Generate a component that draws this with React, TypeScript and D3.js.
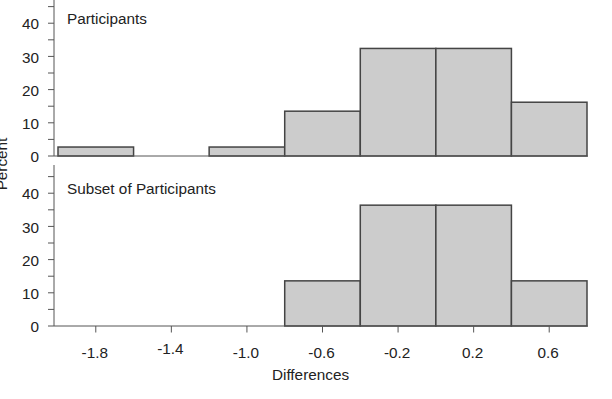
import React from "react";
import * as d3 from "d3";

// histogram bins of width 0.4, percent of people per bin
const binStarts = [-2.0, -1.6, -1.2, -0.8, -0.4, 0.0, 0.4];
const binWidth = 0.4;
const participants = [2.7, 0, 2.7, 13.5, 32.4, 32.4, 16.2];
const subset = [0, 0, 0, 13.6, 36.4, 36.4, 13.6];
const xTicks = [-1.8, -1.4, -1.0, -0.6, -0.2, 0.2, 0.6];
const yTicks = [0, 10, 20, 30, 40];
const yMinor = [5, 15, 25, 35, 45];

const FONT = "'Liberation Sans', Arial, sans-serif";
const FS = 15.3;
const AXIS = "#555";

type PanelProps = {
  title: string;
  values: number[];
  x: d3.ScaleLinear<number, number>;
  y: d3.ScaleLinear<number, number>;
  showX?: boolean;
};

function Panel({ title, values, x, y, showX = false }: PanelProps) {
  const axisX = 54;
  const [y0, yTop] = y.range();
  return (
    <g>
      {values.map((v, i) =>
        v > 0 ? (
          <rect
            key={i}
            x={x(binStarts[i])}
            y={y(v)}
            width={x(binStarts[i] + binWidth) - x(binStarts[i])}
            height={y(0) - y(v)}
            fill="#cccccc"
            stroke="#444"
            strokeWidth={1.5}
          />
        ) : null
      )}
      <line x1={axisX} x2={588} y1={y0} y2={y0} stroke={AXIS} />
      <line x1={axisX} x2={axisX} y1={y0} y2={yTop} stroke={AXIS} />
      {[...yTicks, ...yMinor].map((t) => (
        <line key={t} x1={axisX - 6} x2={axisX} y1={y(t)} y2={y(t)} stroke={AXIS} />
      ))}
      {yTicks.map((t) => (
        <text
          key={t}
          x={39}
          y={y(t)}
          dy="0.4em"
          textAnchor="end"
          fontSize={FS}
          fontFamily={FONT}
          fill="#222"
        >
          {t}
        </text>
      ))}
      <text x={67} y={yTop + 28.5} fontSize={FS} fontFamily={FONT} fill="#222">
        {title}
      </text>
      {showX &&
        xTicks.map((t) => (
          <g key={t} transform={`translate(${x(t)},${y0})`}>
            <line y1={0} y2={6.5} stroke={AXIS} />
            <text
              x={-1}
              y={t === -1.4 ? 28.3 : 32.3}
              textAnchor="middle"
              fontSize={FS}
              fontFamily={FONT}
              fill="#222"
            >
              {t.toFixed(1)}
            </text>
          </g>
        ))}
    </g>
  );
}

export default function App() {
  const width = 612;
  const height = 399;

  const x = d3
    .scaleLinear()
    .domain([-2.0, 0.8])
    .range([58, 587]);

  const yTopPanel = d3.scaleLinear().domain([0, 48.5]).range([156, -5]);
  const yBottomPanel = d3.scaleLinear().domain([0, 48.5]).range([326, 165]);

  return (
    <svg
      width={width}
      height={height}
      style={{ position: "absolute", left: 0, top: 0, background: "#fff" }}
    >
      <Panel title="Participants" values={participants} x={x} y={yTopPanel} />
      <Panel
        title="Subset of Participants"
        values={subset}
        x={x}
        y={yBottomPanel}
        showX
      />
      <text
        x={310.5}
        y={379.5}
        textAnchor="middle"
        fontSize={FS}
        fontFamily={FONT}
        fill="#222"
      >
        Differences
      </text>
      <text
        transform="translate(6.5,164) rotate(-90)"
        textAnchor="middle"
        fontSize={FS}
        fontFamily={FONT}
        fill="#222"
      >
        Percent
      </text>
    </svg>
  );
}
